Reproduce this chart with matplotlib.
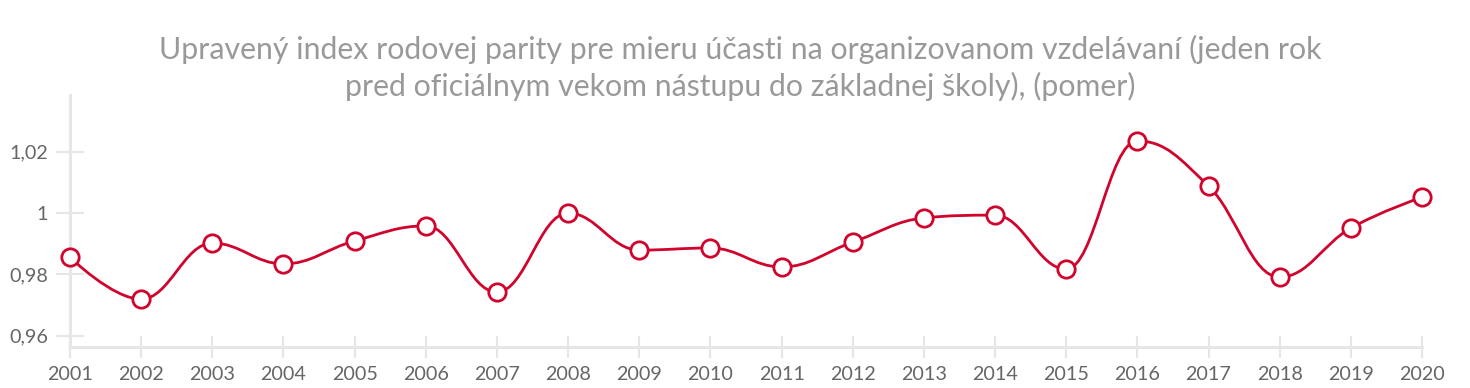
import matplotlib
matplotlib.use("Agg")
import matplotlib.pyplot as plt
from matplotlib.path import Path
from matplotlib.patches import PathPatch
import numpy as np

years = list(range(2001, 2021))
values = [0.9856, 0.9719, 0.9902, 0.9834, 0.9909, 0.9958, 0.9742, 1.0000, 0.9879, 0.9886,
          0.9824, 0.9905, 0.9984, 0.9993, 0.9817, 1.0235, 1.0088, 0.9791, 0.9951, 1.0052]
ytick_vals = [0.96, 0.98, 1.00, 1.02]
ytick_labels = ["0,96", "0,98", "1", "1,02"]
title = ("Upravený index rodovej parity pre mieru účasti na organizovanom vzdelávaní (jeden rok\n"
         "pred oficiálnym vekom nástupu do základnej školy), (pomer)")

RED = "#d0042c"
AX = "#e6e6e6"
plt.rcParams['font.family'] = ['Lato', 'DejaVu Sans']

W, H = 1470, 388
fig = plt.figure(figsize=(W / 100, H / 100), dpi=100)
ax = fig.add_axes([70 / W, (H - 347) / H, (1422 - 70) / W, (347 - 95) / H])
ax.set_xlim(2001, 2020)
ax.set_ylim(0.9563, 1.0385)


def highcharts_spline(xs, ys, sx, sy):
    X = [x * sx for x in xs]
    Y = [y * sy for y in ys]
    n = len(X)
    verts = [(X[0], Y[0])]
    codes = [Path.MOVETO]
    smoothing, denom = 1.5, 2.5
    conts = []
    for i in range(n):
        if i == 0 or i == n - 1:
            conts.append(((X[i], Y[i]), (X[i], Y[i])))
            continue
        px, py = X[i], Y[i]
        lx, ly = X[i - 1], Y[i - 1]
        nx, ny = X[i + 1], Y[i + 1]
        lcx = (smoothing * px + lx) / denom
        lcy = (smoothing * py + ly) / denom
        rcx = (smoothing * px + nx) / denom
        rcy = (smoothing * py + ny) / denom
        if rcx != lcx:
            corr = ((rcy - lcy) * (rcx - px)) / (rcx - lcx) + py - rcy
            lcy += corr
            rcy += corr
        if lcy > ly and lcy > py:
            lcy = max(ly, py); rcy = 2 * py - lcy
        elif lcy < ly and lcy < py:
            lcy = min(ly, py); rcy = 2 * py - lcy
        if rcy > ny and rcy > py:
            rcy = max(ny, py); lcy = 2 * py - rcy
        elif rcy < ny and rcy < py:
            rcy = min(ny, py); lcy = 2 * py - rcy
        conts.append(((lcx, lcy), (rcx, rcy)))
    for i in range(1, n):
        c1 = conts[i - 1][1]
        c2 = conts[i][0]
        verts += [c1, c2, (X[i], Y[i])]
        codes += [Path.CURVE4] * 3
    verts = [(vx / sx, vy / sy) for vx, vy in verts]
    return Path(verts, codes)


sx = (1422 - 70) / (2020 - 2001)
sy = (347 - 95) / (1.0385 - 0.9563)
path = highcharts_spline(years, values, sx, sy)
ax.add_patch(PathPatch(path, facecolor="none", edgecolor=RED, lw=2.0, zorder=3, clip_on=False))
ax.plot(years, values, linestyle="none", marker="o", ms=12.5, mfc="white", mec=RED, mew=2.0,
        zorder=4, clip_on=False)

for s in ["top", "right"]:
    ax.spines[s].set_visible(False)
for s in ["left", "bottom"]:
    ax.spines[s].set_color(AX)
    ax.spines[s].set_linewidth(2.2)

ax.set_xticks(years)
ax.set_xticklabels([str(y) for y in years])
ax.set_yticks(ytick_vals)
ax.set_yticklabels(ytick_labels)
ax.tick_params(axis="x", direction="inout", length=16, width=1.5, color=AX,
               labelsize=14.2, labelcolor="#666666", pad=6)
ax.tick_params(axis="y", direction="inout", length=20, width=1.5, color=AX,
               labelsize=14.2, labelcolor="#666666", pad=6)

fig.text(740 / W, 1 - 68 / H, title, ha="center", va="center", fontsize=21.8,
         color="#999999", linespacing=1.32)

fig.savefig("out.png", dpi=100)
